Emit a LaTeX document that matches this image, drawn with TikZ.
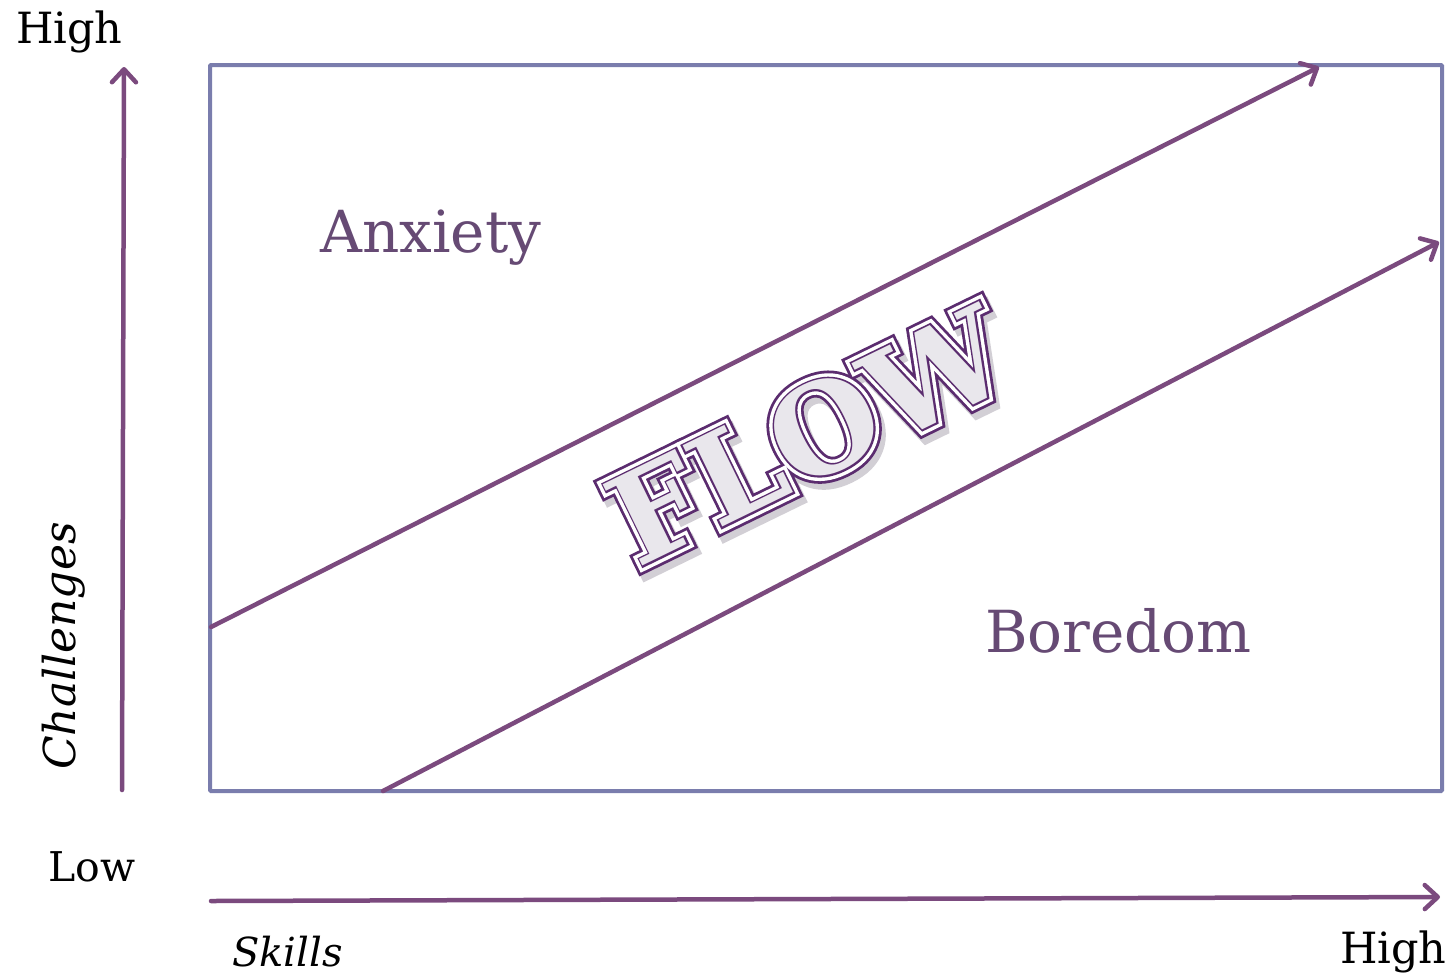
\documentclass[tikz,border=0pt]{standalone}
\usepackage{fontspec}
\setmainfont{DejaVu Serif}
\newfontfamily\flowouter[FakeBold=13]{DejaVu Serif Bold}
\newfontfamily\flowgap[FakeBold=8.5]{DejaVu Serif Bold}
\newfontfamily\flowinner[FakeBold=3]{DejaVu Serif Bold}
\newfontfamily\flowcore{DejaVu Serif Bold}
\usetikzlibrary{arrows.meta}
\definecolor{arrowpurple}{HTML}{7B4A7E}
\definecolor{framecol}{HTML}{7A7DAD}
\definecolor{labelpurple}{HTML}{664A74}
\definecolor{flowline}{HTML}{5B2C6F}
\definecolor{flowfill}{HTML}{E9E7EC}
\definecolor{flowshadow}{HTML}{D2CFD5}
\tikzset{
  axisarrow/.style={draw=arrowpurple, line width=4.5pt, line cap=round,
    -{Straight Barb[length=13pt,width=24pt,line cap=round,line join=round]}},
  framebox/.style={draw=framecol, line width=4pt, rounded corners=1pt},
  axislabel/.style={font=\fontsize{43}{43}\selectfont, text=black, inner sep=0pt, anchor=base west},
  zonelabel/.style={font=\fontsize{58}{58}\selectfont, text=labelpurple, inner sep=0pt, anchor=base west},
  flowtext/.style={rotate=26, inner sep=0pt}
}
\newcommand{\flowsize}{\fontsize{124}{124}\selectfont}
\begin{document}
\begin{tikzpicture}[x=1pt,y=-1pt]
\useasboundingbox (0,0) rectangle (1450,978);
% frame
\coordinate (fnw) at (210,65);
\coordinate (fse) at (1442,791);
\draw[framebox] (fnw) rectangle (fse);
% axes
\coordinate (vbot) at (122,790);
\coordinate (vtop) at (124,67);
\coordinate (hleft) at (211,901);
\coordinate (hright) at (1440,897);
\draw[axisarrow] (vbot) -- (vtop);
\draw[axisarrow] (hleft) -- (hright);
% diagonals
\coordinate (u1) at (211,627);
\coordinate (u2) at (1319,67);
\coordinate (l1) at (383,791);
\coordinate (l2) at (1439,242);
\draw[axisarrow] (u1) -- (u2);
\draw[axisarrow] (l1) -- (l2);
% labels
\node[axislabel] (hightop) at (16,43) {High};
\node[axislabel, font=\fontsize{41}{41}\selectfont] (low) at (48,881) {Low};
\node[axislabel, font=\fontsize{40}{40}\selectfont\itshape] (skills) at (232,966) {Skills};
\node[axislabel] (highright) at (1340,963) {High};
\node[axislabel, font=\fontsize{44}{44}\selectfont\itshape, rotate=90] (chal) at (75,770) {Challenges};
\node[zonelabel] (anx) at (320,252) {Anxiety};
\node[zonelabel] (bor) at (985,652) {Boredom};
% FLOW
\node[flowtext, text=flowshadow, font=\flowouter\flowsize] (flowsh) at (812,441) {FLOW};
\node[flowtext, text=flowline, font=\flowouter\flowsize] (flowa) at (808,435) {FLOW};
\node[flowtext, text=white, font=\flowgap\flowsize] (flowb) at (808,435) {FLOW};
\node[flowtext, text=flowline, font=\flowinner\flowsize] (flowc) at (808,435) {FLOW};
\node[flowtext, text=flowfill, font=\flowcore\flowsize] (flow) at (808,435) {FLOW};
\end{tikzpicture}
\end{document}
